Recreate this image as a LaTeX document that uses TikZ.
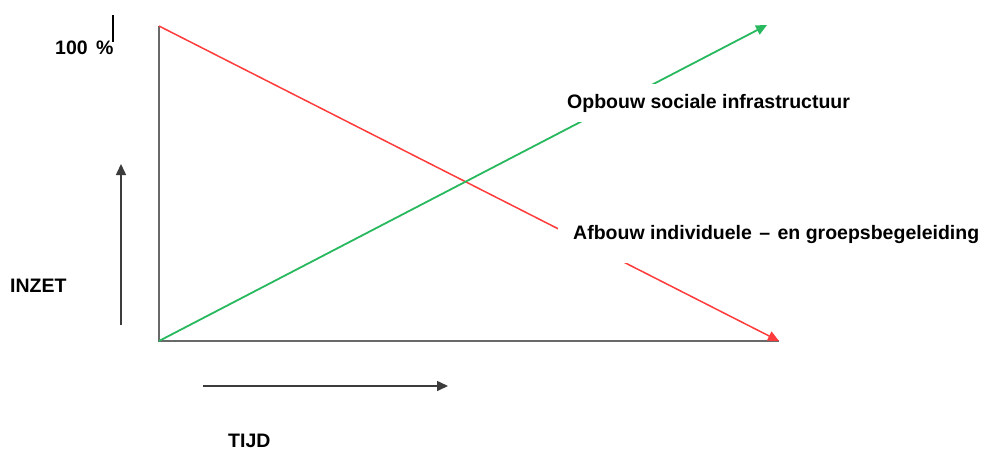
\documentclass[tikz,border=0pt]{standalone}
\usepackage{fontspec}
\setmainfont{Liberation Sans}
\usetikzlibrary{arrows.meta}
\definecolor{redline}{RGB}{255,60,60}
\definecolor{greenline}{RGB}{40,185,95}
\definecolor{axisgray}{RGB}{105,105,105}
\definecolor{arrowgray}{RGB}{60,60,60}
\tikzset{
  lbl/.style={font=\fontsize{19.5}{22}\selectfont\bfseries, inner sep=0pt},
  tip/.style={-{Triangle[length=11pt,width=10pt]}},
}

\begin{document}
\begin{tikzpicture}[x=1pt,y=-1pt]
\useasboundingbox (0,0) rectangle (988,450);
\fill[white] (0,0) rectangle (988,450);
% axes
\coordinate (top) at (159,26);
\coordinate (o) at (159,341);
\coordinate (xend) at (779,341);
\coordinate (gend) at (767,25);
\draw[axisgray, line width=2] (top)--(o)--(xend);
% the two lines
\draw[redline, line width=1.5, tip] (top)--(xend);
\draw[greenline, line width=1.8, tip] (o)--(gend);
% labels on the lines
\node[lbl, fill=white, anchor=base west, text height=24pt, text depth=14pt] (opbouw) at (567,108) {Opbouw sociale infrastructuur};
\node[lbl, fill=white, anchor=base west, inner xsep=15pt, text height=16pt, text depth=24pt] (afbouw) at (558,239) {Afbouw individuele\hspace{2pt} --\hspace{2pt} en groepsbegeleiding};
% percentage mark
\coordinate (tickA) at (113,15);
\coordinate (tickB) at (113,42);
\node[lbl, anchor=base west] (honderd) at (55,54) {100\hspace{3pt} \%};
\draw[black, line width=2] (tickA)--(tickB);
% inzet and tijd arrows
\coordinate (upA) at (121,325);
\coordinate (upB) at (121,164);
\draw[arrowgray, line width=1.5, tip] (upA)--(upB);
\node[lbl, anchor=base west] (inzet) at (10,292) {INZET};
\coordinate (rA) at (203,386);
\coordinate (rB) at (448,386);
\draw[arrowgray, line width=1.5, tip] (rA)--(rB);
\node[lbl, anchor=base west] (tijd) at (228,447) {TIJD};
\end{tikzpicture}
\end{document}
